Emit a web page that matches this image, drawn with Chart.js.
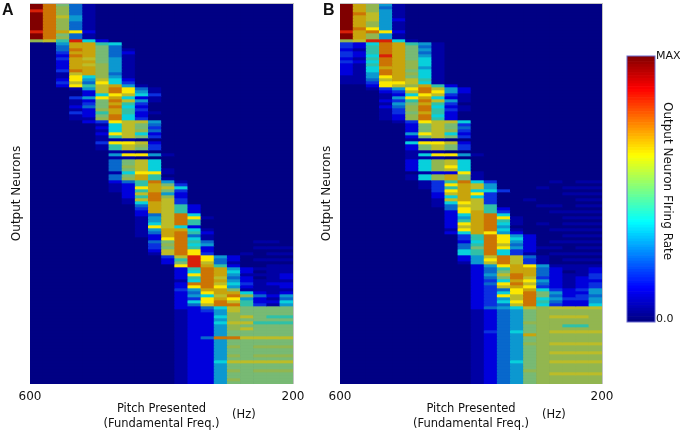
<!DOCTYPE html>
<html>
<head>
<meta charset="utf-8">
<script src="https://cdn.jsdelivr.net/npm/chart.js@4"></script>
<style>
  html, body { margin: 0; padding: 0; background: #fff; }
  body { position: relative; width: 680px; height: 432px; overflow: hidden; font-family: "DejaVu Sans", sans-serif; color: #111; }
  canvas { position: absolute; top: 0; }
  .note { position: absolute; white-space: nowrap; }
  .letter { font: bold 16px "Liberation Sans", sans-serif; top: 1px; }
  .hz { font-size: 11.5px; top: 407px; }
  .rate { font-size: 12px; left: 661px; top: 102px; writing-mode: vertical-rl; }
</style>
</head>
<body>
<canvas id="panelA" width="320" height="432" style="left:0"></canvas>
<canvas id="panelB" width="320" height="432" style="left:310px"></canvas>
<canvas id="colorbar" width="70" height="432" style="left:610px"></canvas>
<div class="note letter" style="left:2px">A</div>
<div class="note letter" style="left:323px">B</div>
<div class="note hz" style="left:232px">(Hz)</div>
<div class="note hz" style="left:542px">(Hz)</div>
<div class="note rate">Output Neuron FIring Rate</div>
<script>
// column centres in Hz, the axis only labels the two ends
const pitchHz = [590, 570, 550, 530, 510, 490, 470, 450, 430, 410, 390, 370, 350, 330, 310, 290, 270, 250, 230, 210]
const pitchTicks = [600, 200]
const scaleTicks = [0.012, 1]
const scaleLabels = ['0.0', 'MAX']

// one string per output neuron, one hex digit per pitch
const rowsA = [
  'fd841', 'fd941', 'ed941', 'fd941', 'fda51', 'fd951', 'fd941', 'fd941', 'fd941', 'edcb2',
  'fd841', 'fd941', '9a7e62', '005cc76', '004cc84', '004dc841', '003cc842', '002dc841', '003ca851', '002cc851',
  '002ca951', '002cc951', '003dc951', '001ac941', '001b6951', '002b5a62', '003a4b63', '002b7ac51', '00015adb41', '00002adb51',
  '000026ba63', '00035bc621', '000128da51', '000138c73', '000248d62', '000129c73', '000327c721', '000128d62', '000119d63', '000023baa5',
  '0000016a84', '0000026a83', '0000016a94', '000002ba62', '0000017a83', '00000111', '000003bba2', '0000017a93', '0000017a83', '00000011',
  '0000005bb51', '00000011', '00000048a6', '00000048a6', '00000049a6', '00000048a61', '00000016bb1', '00000048c7', '00000049c71', '000000247d51',
  '000000127c83', '00000012bca6', '000000127c83', '00000002ad52', '000000027d92', '00000001ada3', '000000016ca3', '000000004ca72', '000000003ca72', '000000002ca72',
  '0000000024ad6', '0000000015adb1', '0000000015ad7', '0000000016ad7', '000000001ba62', '0000000015cc61', '0000000014cd72', '0000000012cd41', '0000000002bd61', '00000000048d7400011',
  '00000000039d65', '00000000038d72000111', '0000000002adb2', '0000000001adb3001011', '00000000003aeb52', '000000000027eb420111', '000000000028ea41', '00000000000bec720011', '0000000000027dc52111', '0000000000026dc62011',
  '000000000002bdc51112', '0000000000027da42012', '0000000000016dc52111', '000000000002dda63122', '000000000002bdb52112', '0000000000035cc81111', '0000000000024bcc6212', '00000000000256ad9425', '0000000000023bcb5214', '0000000000026bda7226',
  '0000000000024add7315', '000000000002246a8888', '000000000001235a8888', '00000000000122598888', '0000000000012269a877',
  '00000000000122598888', '000000000001226aa777', '00000000000122598888', '0000000000012259a888', '00000000000122588888',
  '00000000000122588888', '00000000000124ddaaaa', '00000000000122588888', '00000000000122588888', '00000000000122598999',
  '00000000000122588888', '00000000000122588888', '00000000000122598999', '00000000000122588888', '000000000001226aaaaa',
  '00000000000122588888', '00000000000122588888', '00000000000122598999', '00000000000122588888', '00000000000122588888',
  '00000000000122598888', '00000000000122588888'
]
const rowsB = [
  'fc951', 'fc941', 'fc951', 'fda51', 'fca51', 'fca52', 'fc951', 'fc951', 'fdb51', 'ecdb2',
  'fc951', 'fc951', '9aee61', '326dc751', '327dc841', '217dc851', '327dc841', '326ec851', '217dc861', '326dc961',
  '217dc961', '216cc951', '216dc861', '215dc961', '115bc861', '114aca71', '113bba61', '002ba9c72', '00135bda52', '00023adb52',
  '000126ba31', '00015bc621', '000237da51', '000158c73', '000249d621', '000139d731', '000138c72', '000129d62', '000129d72', '000013baa6',
  '0000028a83', '0000028a84', '0000028a93', '000005ba62', '0000028a83', '00000111', '000006bba2', '0000028a83', '0000028a83', '00000111',
  '0000016bb51', '00000111', '00000269a6', '00000269a6', '00000269b6', '00000269a6', '000000122b1', '00000169c81', '00000169c81', '000000137d6300001011',
  '00000013bca5', '000000137ca500010111', '00000003bc663', '00000002acb300000111', '000000026c63', '00000001aca300100011', '000000016ba3', '000000014aa700011011', '000000004ba72', '000000002bc730001111',
  '0000000026cd6', '0000000025cdb1000111', '0000000027cd71', '000000002bcd61010111', '000000002acd5', '000000001bcd61001111', '0000000026cb52', '00000000037db5200111', '00000000037db62', '00000000026db5201111',
  '00000000047da42', '00000000048db5211011', '00000000067d632', '00000000067d63101111', '00000000025ada41', '00000000025bda310111', '00000000015ada31', '000000000025bcb51111', '0000000000247cc42112', '0000000000248cc42012',
  '000000000025adc42113', '0000000000248da32123', '0000000000236cb52122', '000000000024bda42123', '000000000023acb32123', '0000000000234bc63235', '0000000000236bd85225', '000000000023bad84234', '0000000000235ad65335', '0000000000236bd74225',
  '0000000000234ad63226', '00000000002456a9aaaa', '00000000001245899999', '00000000001245899999', '0000000000124589aaa9',
  '00000000001245899999', '00000000001245999999', '00000000001245899779', '00000000001245899999', '0000000000134689aaaa',
  '00000000001245c99999', '00000000001245899999', '00000000001245899999', '0000000000124599aaaa', '00000000001245899999',
  '00000000001245899999', '0000000000124589aaaa', '00000000001245899999', '00000000001245899999', '0000000000124689aaaa',
  '00000000001245899999', '00000000001245899999', '00000000001245999999', '0000000000124589aaaa', '00000000001245899999',
  '00000000001245899999', '00000000001245899999'
]

const heatColors = ['#000084', '#0000a4', '#0000dc', '#0a30e0', '#0868cc', '#0c98d0', '#08d0dc', '#30c0a8',
  '#78ba74', '#92b650', '#bcbc28', '#fce800', '#c8a40c', '#cc7404', '#d82008', '#800000']

const frame = {
  id: 'frame',
  beforeDatasetsDraw (chart) {
    const { ctx, chartArea: a } = chart
    ctx.fillStyle = '#00006c'
    ctx.fillRect(a.left, a.top, a.width, a.height)
  }
}

function drawPanel (id, rows, rightPad) {
  const datasets = rows.map(row => ({
    data: pitchHz.map(x => ({ x, y: 1 })),
    backgroundColor: pitchHz.map((_, i) => heatColors[parseInt(row.padEnd(20, '0')[i], 16)]),
    barPercentage: 1,
    categoryPercentage: 1,
    borderWidth: 0
  }))
  new Chart(document.getElementById(id), {
    type: 'bar',
    data: { datasets },
    plugins: [frame],
    options: {
      responsive: false,
      animation: false,
      events: [],
      layout: { padding: { left: 6, top: 3, right: rightPad, bottom: 0 } },
      plugins: { legend: { display: false }, tooltip: { enabled: false } },
      scales: {
        x: {
          type: 'linear',
          stacked: true,
          reverse: true,
          offset: false,
          min: 200,
          max: 600,
          afterBuildTicks: axis => { axis.ticks = pitchTicks.map(value => ({ value })) },
          afterFit: axis => { axis.height = 48 },
          grid: { z: 1, offset: false, drawTicks: false, color: c => c.tick && c.tick.value === 200 ? '#c4c4c4' : 'transparent' },
          border: { display: false },
          ticks: { maxRotation: 0, padding: 6, color: '#111', font: { family: 'DejaVu Sans', size: 12 }, callback: v => String(v) },
          title: { display: true, text: ['Pitch Presented', '(Fundamental Freq.)'], color: '#111', padding: 0, font: { family: 'DejaVu Sans', size: 11.5, lineHeight: 1.35 } }
        },
        y: {
          stacked: true,
          reverse: true,
          min: 0,
          max: rows.length,
          afterBuildTicks: axis => { axis.ticks = [{ value: 0 }] },
          afterFit: axis => { axis.width = 24 },
          grid: { z: 1, drawTicks: false, color: '#c4c4c4' },
          border: { display: false },
          ticks: { display: false },
          title: { display: true, text: 'Output Neurons', color: '#111', padding: { top: 4, bottom: 0 }, font: { family: 'DejaVu Sans', size: 12 } }
        }
      }
    }
  })
}

// jet ramp for the legend bar only
function jet (v) {
  const part = k => Math.round(255 * Math.max(0, Math.min(1, 1.5 - Math.abs(4 * v - k))))
  return `rgb(${part(3)},${part(2)},${part(1)})`
}

const barSteps = Array.from({ length: 96 }, (_, i) => i)

function drawColorbar () {
  new Chart(document.getElementById('colorbar'), {
    type: 'bar',
    data: {
      labels: ['rate'],
      datasets: barSteps.map(i => ({
        data: [1 / barSteps.length],
        backgroundColor: jet((i + 0.5) / barSteps.length),
        barPercentage: 1,
        categoryPercentage: 1,
        borderWidth: 0
      }))
    },
    plugins: [{
      id: 'barFrame',
      afterDatasetsDraw (chart) {
        const { ctx, chartArea: a } = chart
        ctx.strokeStyle = '#6a6ad0'
        ctx.lineWidth = 1
        ctx.strokeRect(a.left, a.top, a.width, a.height)
      }
    }],
    options: {
      responsive: false,
      animation: false,
      events: [],
      layout: { padding: { left: 17, top: 56, right: 0, bottom: 110 } },
      plugins: { legend: { display: false }, tooltip: { enabled: false } },
      scales: {
        x: { stacked: true, display: false },
        y: {
          stacked: true,
          position: 'right',
          min: 0,
          max: 1,
          afterBuildTicks: axis => { axis.ticks = scaleTicks.map(value => ({ value })) },
          afterFit: axis => { axis.width = 25 },
          grid: { display: false, drawTicks: false },
          border: { display: false },
          ticks: { padding: 1, color: '#111', font: { family: 'DejaVu Sans', size: 11 }, callback: v => scaleLabels[scaleTicks.indexOf(v)] }
        }
      }
    }
  })
}

drawPanel('panelA', rowsA, 27)
drawPanel('panelB', rowsB, 28)
drawColorbar()
</script>
</body>
</html>
